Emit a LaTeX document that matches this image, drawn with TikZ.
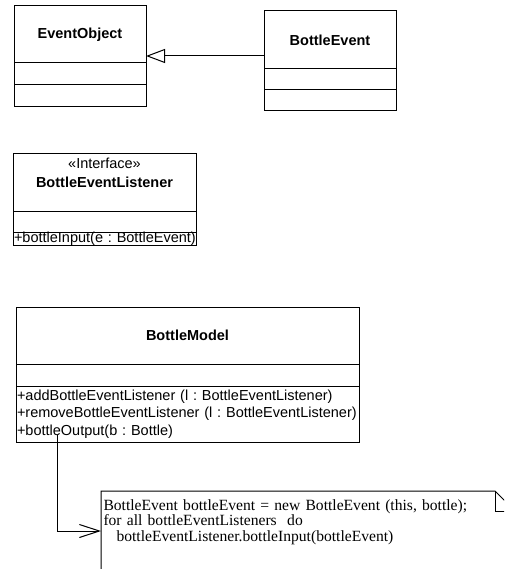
\documentclass[tikz,border=0pt]{standalone}
\usepackage{fontspec}
\setmainfont{Liberation Serif}
\setsansfont{Liberation Sans}
\usetikzlibrary{positioning, arrows.meta}
\frenchspacing
\newcommand{\umlsize}{\fontsize{14.5}{17.5}\selectfont}
\newcommand{\notesize}{\fontsize{15.6}{15.5}\selectfont}
\tikzstyle{umlHead} = [rectangle, draw, inner sep=0pt, outer sep=0pt, font=\sffamily\bfseries\umlsize]
\tikzstyle{umlPart} = [rectangle, draw, inner xsep=1pt, inner ysep=0pt, outer sep=0pt, font=\sffamily\umlsize, align=left]
\begin{document}
\begin{tikzpicture}[x=1pt, y=-1pt, line width=1pt]
		\useasboundingbox (0,0) rectangle (504,569);
		\clip (0,0) rectangle (504,569);
		\node [umlHead, minimum width=132pt, minimum height=57pt](eoT) at (80,34.5) {EventObject};
		\node [umlPart, minimum width=132pt, minimum height=22pt, below=0pt of eoT](eoA) {};
		\node [umlPart, minimum width=132pt, minimum height=22pt, below=0pt of eoA](eoO) {};
		
		\node [umlHead, minimum width=132pt, minimum height=58pt](beT) at (330,40) {BottleEvent};
		\node [umlPart, minimum width=132pt, minimum height=21pt, below=0pt of beT](beA) {};
		\node [umlPart, minimum width=132pt, minimum height=21pt, below=0pt of beA](beO) {};
		
		\node [umlHead, minimum width=183pt, minimum height=57pt](blT) at (104.5,182.5) {};
		\node [font=\sffamily\umlsize, align=center, inner sep=0pt, below=4pt of blT.north](blName) {«Interface»\\[1.5pt]\textbf{BottleEventListener}};
		\node [umlPart, minimum width=183pt, minimum height=21pt, below=0pt of blT](blA) {};
		\node [umlPart, text width=181pt, minimum height=13pt, below=0pt of blA](blO) {\mbox{+bottleInput(e : BottleEvent)}};
		
		\node [umlHead, minimum width=343pt, minimum height=57pt](bmT) at (187.5,335.5) {BottleModel};
		\node [umlPart, minimum width=343pt, minimum height=22pt, below=0pt of bmT](bmA) {};
		\node [umlPart, text width=341pt, minimum height=56pt, below=0pt of bmA](bmO) {+addBottleEventListener (l : BottleEventListener)\\+removeBottleEventListener (l : BottleEventListener)\\+bottleOutput(b : Bottle)};
		
		%\draw (eoT) -- (beT);
		\coordinate (beOut) at ([yshift=-16pt]beT.west);
		\draw [-{Triangle[open, length=19pt, width=14pt]}] (beOut) -- (beOut -| eoT.east);
		
		\node [font=\notesize, align=left, text width=409pt, inner xsep=2pt, inner ysep=8pt, anchor=north west](note) at (101,491) {BottleEvent bottleEvent = new BottleEvent (this, bottle);\\for all bottleEventListeners\ \ do\\\hspace*{13pt}bottleEventListener.bottleInput(bottleEvent)};
		\draw (note.north west) -- ([xshift=-20pt]note.north east) -- ([yshift=-20pt]note.north east) -- ([yshift=-40pt]note.south east) -- ([yshift=-40pt]note.south west) -- cycle;
		\draw ([xshift=-20pt]note.north east) |- ([yshift=-20pt]note.north east);
		
		\coordinate (bmOut) at ([xshift=41pt, yshift=7pt]bmO.south west);
		\draw [-{Straight Barb[length=20pt, width=13pt]}] (bmOut) |- ([yshift=-40pt]note.north west);
\end{tikzpicture}
\end{document}
